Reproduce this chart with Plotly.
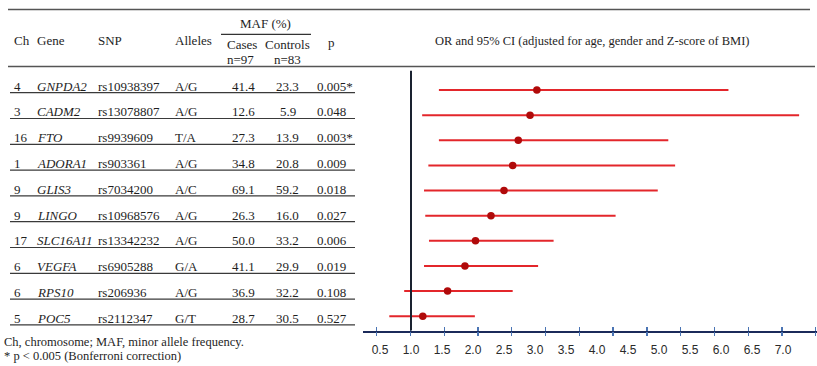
import plotly.graph_objects as go

# ---------------- data ----------------
chromosomes = ["4", "3", "16", "1", "9", "9", "17", "6", "6", "5"]
genes = ["GNPDA2", "CADM2", "FTO", "ADORA1", "GLIS3", "LINGO", "SLC16A11", "VEGFA", "RPS10", "POC5"]
snps = ["rs10938397", "rs13078807", "rs9939609", "rs903361", "rs7034200",
        "rs10968576", "rs13342232", "rs6905288", "rs206936", "rs2112347"]
alleles = ["A/G", "A/G", "T/A", "A/G", "A/C", "A/G", "A/G", "G/A", "A/G", "G/T"]
maf_cases = ["41.4", "12.6", "27.3", "34.8", "69.1", "26.3", "50.0", "41.1", "36.9", "28.7"]
maf_controls = ["23.3", "5.9", "13.9", "20.8", "59.2", "16.0", "33.2", "29.9", "32.2", "30.5"]
p_values = ["0.005*", "0.048", "0.003*", "0.009", "0.018", "0.027", "0.006", "0.019", "0.108", "0.527"]

odds_ratio = [3.03, 2.92, 2.73, 2.64, 2.50, 2.29, 2.04, 1.87, 1.59, 1.19]
ci_low = [1.45, 1.18, 1.45, 1.28, 1.21, 1.23, 1.29, 1.21, 0.89, 0.65]
ci_high = [6.12, 7.26, 5.15, 5.26, 4.98, 4.30, 3.30, 3.05, 2.64, 2.03]

tick_values = [0.5, 1.0, 1.5, 2.0, 2.5, 3.0, 3.5, 4.0, 4.5, 5.0, 5.5, 6.0, 6.5, 7.0]

header_cols = ["Ch", "Gene", "SNP", "Alleles"]
title_text = "OR and 95% CI (adjusted for age, gender and Z-score of BMI)"
footnotes = ["Ch, chromosome; MAF, minor allele frequency.",
             "* p &lt; 0.005 (Bonferroni correction)"]

# ---------------- layout constants (pixels) ----------------
W, H = 817, 366
PL, PR, PT, PB = 363, 817, 67, 330.5
SERIF = "Liberation Serif"
SANS = "Liberation Sans"
TXT = "#1e1e1e"


def px(x):
    return x / W


def py(y):
    return 1 - y / H


n = len(genes)
rows = list(range(n))

fig = go.Figure()

# CI lines (as error bars) + point estimates
fig.add_trace(go.Scatter(
    x=odds_ratio, y=rows, mode="markers",
    marker=dict(color="#b00a0a", size=7.5),
    error_x=dict(type="data", symmetric=False,
                 array=[h - o for h, o in zip(ci_high, odds_ratio)],
                 arrayminus=[o - l for o, l in zip(odds_ratio, ci_low)],
                 color="#e3262b", thickness=2, width=0),
    showlegend=False, hoverinfo="skip", cliponaxis=False,
))

# ---------------- axes ----------------
unit = 62.0          # px per OR unit
x_one = 411.0        # px of OR = 1
xr = [1 - (x_one - PL) / unit, 1 + (PR - x_one) / unit]

row_pitch = 25.14
row0 = 90.0
yr = [(PB - row0) / row_pitch, (PT - row0) / row_pitch]

dom_x = [px(PL), px(PR)]
dom_y = [1 - PB / H, 1 - PT / H]

tick_range = [0.297, 7.019]

# invisible helper traces so the tick-only axes get drawn
for ax in ["x2", "x3"]:
    fig.add_trace(go.Scatter(x=tick_range, y=[0, 0], xaxis=ax, yaxis="y", mode="markers",
                             marker=dict(opacity=0, size=1),
                             showlegend=False, hoverinfo="skip"))

tick_common = dict(overlaying="x", anchor="y", side="bottom", range=tick_range,
                   tickmode="linear", tick0=0.5, dtick=0.5,
                   showticklabels=False, showline=False, showgrid=False, zeroline=False,
                   ticklen=4, tickwidth=1.3, tickcolor="#4a74b4")

fig.update_layout(
    width=W, height=H,
    margin=dict(l=0, r=0, t=0, b=0),
    paper_bgcolor="white", plot_bgcolor="white",
    xaxis=dict(domain=dom_x, range=xr, tickmode="array", tickvals=tick_values,
               ticktext=[f"{v:.1f}" for v in tick_values], ticks="",
               showline=True, linecolor="#1b2a5a", linewidth=2.5,
               showgrid=False, zeroline=False, ticklabelstandoff=7,
               tickfont=dict(family=SANS, size=12, color="#2a2a2a")),
    xaxis2=dict(ticks="outside", **tick_common),
    xaxis3=dict(ticks="inside", **tick_common),
    yaxis=dict(domain=dom_y, range=yr, visible=False, fixedrange=True),
)

shapes = []
# reference line at OR = 1
shapes.append(dict(type="line", xref="x", yref="paper", x0=1, x1=1,
                   y0=py(PB), y1=py(70.7), line=dict(color="#1a2230", width=2)))
# horizontal rules
shapes.append(dict(type="line", xref="paper", yref="paper", x0=px(8), x1=px(810),
                   y0=py(9.5), y1=py(9.5), line=dict(color="#555555", width=1.3)))
shapes.append(dict(type="line", xref="paper", yref="paper", x0=px(8), x1=px(815),
                   y0=py(66.5), y1=py(66.5), line=dict(color="#555555", width=1.3)))
shapes.append(dict(type="line", xref="paper", yref="paper", x0=px(221), x1=px(311),
                   y0=py(34.3), y1=py(34.3), line=dict(color="#333333", width=1.2)))

annotations = []


def text(x, y, s, anchor="left", size=13, family=SERIF):
    annotations.append(dict(xref="paper", yref="paper", x=px(x), y=py(y), text=s,
                            showarrow=False, xanchor=anchor, yanchor="middle",
                            font=dict(family=family, size=size, color=TXT)))


# header
for label, x in zip(header_cols, [12, 35, 96, 173]):
    text(x, 40, label)
text(265, 24, "MAF (%)", anchor="center")
text(242, 44.5, "Cases", anchor="center")
text(240, 60, "n=97", anchor="center")
text(287, 44.5, "Controls", anchor="center")
text(287, 60, "n=83", anchor="center")
text(331, 42.7, "p", anchor="center")
text(592, 41, title_text, anchor="center", size=12.5)

# table body
text_row0 = 86.0
text_pitch = 25.8
for i in rows:
    y = text_row0 + i * text_pitch
    text(12, y, chromosomes[i])
    text(35, y, f"<i>{genes[i]}</i>")
    text(96, y, snps[i])
    text(173, y, alleles[i])
    text(243, y, maf_cases[i], anchor="center")
    text(287.5, y, maf_controls[i], anchor="center")
    text(315, y, p_values[i])
    shapes.append(dict(type="line", xref="paper", yref="paper", x0=px(10), x1=px(355),
                       y0=py(y + 6.7), y1=py(y + 6.7),
                       line=dict(color="#3a3a3a", width=1.2)))

# footnotes
text(2, 341.5, footnotes[0], size=12.5)
text(2, 355.5, footnotes[1], size=12.5)

fig.update_layout(shapes=shapes, annotations=annotations)

fig.write_html("out.html",
               config={"displayModeBar": False, "staticPlot": True},
               post_script="document.body.style.margin='0px';document.body.style.overflow='hidden';")
